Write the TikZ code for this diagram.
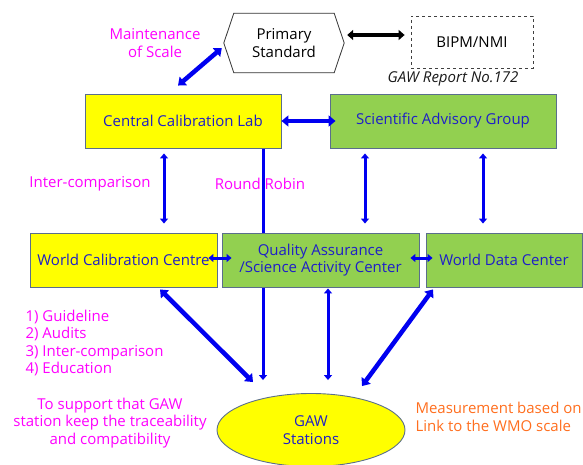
\documentclass[tikz,border=0pt]{standalone}
\usepackage{fontspec}
\setmainfont{Open Sans}
\usepackage{tikz}
\usetikzlibrary{arrows.meta,calc,backgrounds,shapes.geometric}
\definecolor{gawyellow}{RGB}{255,255,0}
\definecolor{gawgreen}{RGB}{146,208,80}
\definecolor{gawedge}{RGB}{90,110,140}
\definecolor{gawtext}{RGB}{30,30,200}
\definecolor{gawblue}{RGB}{0,0,240}
\definecolor{gawpink}{RGB}{255,0,255}
\definecolor{gaworange}{RGB}{255,110,30}

\begin{document}
\begin{tikzpicture}[
  x=1pt, y=-1pt,
  font=\fontsize{15}{17.5}\selectfont,
  box/.style={draw=gawedge, line width=0.9pt, minimum height=54pt, inner sep=1pt,
    text=gawtext, align=center},
  ybox/.style={box, fill=gawyellow},
  gbox/.style={box, fill=gawgreen},
  note/.style={text=gawpink, align=center},
  barr/.style={draw=gawblue, line width=3pt,
    {Triangle[width=8pt,length=5pt]}-{Triangle[width=8pt,length=5pt]}},
  darr/.style={barr, line width=4.5pt, {Triangle[width=11pt,length=7pt]}-{Triangle[width=11pt,length=7pt]}},
]
  \useasboundingbox (0,0) rectangle (583,465);
  % top row
  \node[minimum width=100pt, minimum height=59pt, align=center, inner sep=0pt] (prim) at (284,43) {Primary\\Standard};
  \draw[draw=black!80, line width=0.8pt] ($(prim.west)+(-10,0)$) -- (prim.north west) -- (prim.north east)
    -- ($(prim.east)+(10,0)$) -- (prim.south east) -- (prim.south west) -- cycle;
  \node[draw=black!75, dashed, line width=0.8pt, minimum width=122pt, minimum height=52pt] (bipm) at (472,42) {BIPM/NMI};
  \node[font=\fontsize{15}{17.5}\selectfont\itshape, text=black!90] (rep) at (453,79) {GAW Report No.172};
  \node[note] (maint) at (155,43) {Maintenance\\of Scale};
  % boxes
  \node[ybox, minimum width=196pt] (ccl) at (183,121) {Central Calibration Lab};
  \node[gbox, minimum width=226pt] (sag) at (443,121) {Scientific Advisory Group};
  \node[ybox, minimum width=187pt] (wcc) at (123.5,260) {World Calibration Centre};
  \node[gbox, minimum width=197pt] (qa) at (320.5,260) {Quality Assurance\\/Science Activity Center};
  \node[gbox, minimum width=156pt] (wdc) at (504,260) {World Data Center};
  \node[ellipse, draw=gawedge, line width=0.9pt, fill=gawyellow, minimum width=188pt,
    minimum height=73pt, text=gawtext, align=center, inner sep=0pt] (gaw) at (311,430) {GAW\\Stations};
  % labels
  \node[note] (ic) at (90,184) {Inter-comparison};
  \node[note] (rr) at (260,184) {Round Robin};
  \node[note, align=left, anchor=west] (list) at (22,343) {1)\ Guideline\\2)\ Audits\\3)\ Inter-comparison\\4)\ Education};
  \node[note] (supp) at (110,423) {To support that GAW\\station keep the traceability\\and compatibility};
  \node[text=gaworange, align=left, anchor=west] (meas) at (412,417) {Measurement based on\\Link to the WMO scale};
  % connectors
  \begin{scope}[on background layer]
    \draw[draw=gawblue, line width=3pt, -{Triangle[width=8pt,length=5pt]}] ($(ccl.south)+(80,0)$) -- ($(gaw.north)+(-48,-13)$);
  \end{scope}
  \draw[draw=black, line width=4pt, {Triangle[width=10pt,length=6pt]}-{Triangle[width=10pt,length=6pt]}]
    ($(prim.east)+(13,-8)$) -- ($(bipm.west)+(-6,-7)$);
  \draw[darr] ($(prim.west)+(-12,5)$) -- ($(ccl.north)+(-5,-8)$);
  \draw[darr] (ccl.east) -- ($(sag.west)+(6,0)$);
  \draw[barr] ($(ccl.south)+(-19,5)$) -- ($(wcc.north)+(40.5,-9)$);
  \draw[barr] ($(sag.south)+(-78,5)$) -- ($(qa.north)+(44.5,-9)$);
  \draw[barr] ($(sag.south)+(40,5)$) -- ($(wdc.north)+(-21,-9)$);
  \draw[barr] ($(wcc.east)+(-9,-2)$) -- ($(qa.west)+(10,-2)$);
  \draw[barr] ($(qa.east)+(-9,-2)$) -- ($(wdc.west)+(7,-2)$);
  \draw[darr] ($(wcc.south)+(36.5,2)$) -- ($(gaw.north)+(-58,-11)$);
  \draw[barr] ($(qa.south)+(7.5,1)$) -- ($(gaw.north)+(17,-13)$);
  \draw[darr] ($(wdc.south)+(-71,2)$) -- ($(gaw.north)+(51,-7)$);
\end{tikzpicture}
\end{document}
